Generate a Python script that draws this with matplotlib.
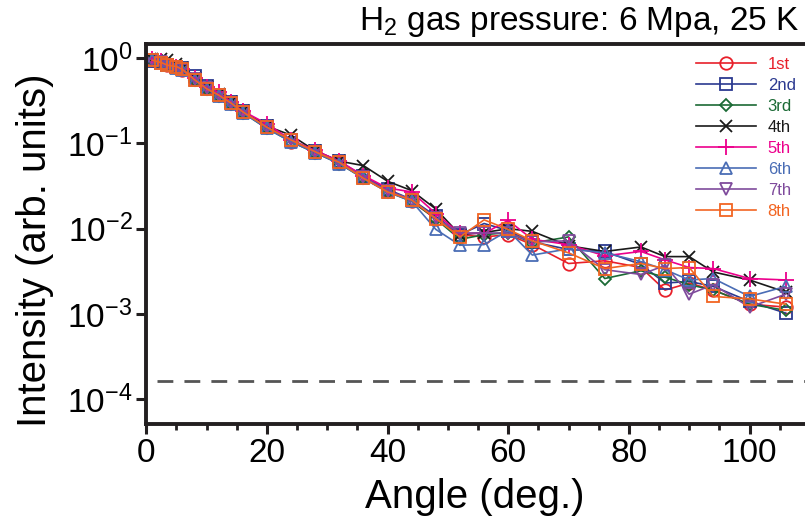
import numpy as np
import matplotlib
matplotlib.use("Agg")
import matplotlib.pyplot as plt
from matplotlib.ticker import FixedLocator, MultipleLocator, FuncFormatter

plt.rcParams['font.family'] = ['Liberation Sans', 'DejaVu Sans']
plt.rcParams['mathtext.fontset'] = 'custom'
plt.rcParams['mathtext.rm'] = 'Liberation Sans'
plt.rcParams['mathtext.default'] = 'regular'

angles = [1, 2.5, 3.5, 5, 6, 8, 10, 12, 14, 16, 20, 24, 28, 32, 36, 40, 44,
          48, 52, 56, 60, 64, 70, 76, 82, 86, 90, 94, 100, 106]

s1 = [0.95, 0.90, 0.84, 0.79, 0.73, 0.57, 0.45, 0.37, 0.30, 0.235, 0.155, 0.105, 0.079, 0.059, 0.040, 0.028, 0.021,
      0.0130, 0.0085, 0.0080, 0.0085, 0.0065, 0.0039, 0.0042, 0.0035, 0.0019, 0.0023, 0.0019, 0.0013, 0.0012]
s2 = [0.92, 0.88, 0.84, 0.80, 0.78, 0.62, 0.47, 0.37, 0.31, 0.24, 0.16, 0.11, 0.082, 0.062, 0.041, 0.029, 0.022,
      0.0140, 0.0085, 0.0115, 0.0095, 0.0070, 0.0057, 0.0054, 0.0038, 0.0023, 0.0024, 0.0021, 0.0014, 0.00102]
s3 = [0.95, 0.90, 0.84, 0.79, 0.73, 0.56, 0.44, 0.36, 0.29, 0.23, 0.150, 0.105, 0.078, 0.058, 0.039, 0.027, 0.021,
      0.0130, 0.0075, 0.0085, 0.0090, 0.0068, 0.0080, 0.0026, 0.0032, 0.0027, 0.0022, 0.0019, 0.0013, 0.0011]
s4 = [0.97, 0.98, 0.95, 0.85, 0.76, 0.58, 0.46, 0.38, 0.31, 0.24, 0.16, 0.125, 0.082, 0.062, 0.055, 0.036, 0.028,
      0.0170, 0.0085, 0.0090, 0.0100, 0.0093, 0.0063, 0.0054, 0.0061, 0.0047, 0.0047, 0.0031, 0.0025, 0.0018]
s5 = [0.98, 0.92, 0.86, 0.80, 0.74, 0.58, 0.46, 0.40, 0.31, 0.24, 0.17, 0.11, 0.083, 0.062, 0.042, 0.030, 0.027,
      0.0150, 0.0088, 0.0088, 0.0125, 0.0075, 0.0065, 0.0048, 0.0054, 0.0043, 0.0035, 0.0034, 0.0026, 0.0025]
s6 = [0.95, 0.89, 0.83, 0.78, 0.72, 0.55, 0.44, 0.36, 0.29, 0.23, 0.150, 0.105, 0.078, 0.058, 0.039, 0.027, 0.021,
      0.0098, 0.0064, 0.0065, 0.0095, 0.0049, 0.0058, 0.0052, 0.0041, 0.0033, 0.0025, 0.0026, 0.0016, 0.0021]
s7 = [0.95, 0.90, 0.84, 0.79, 0.73, 0.57, 0.45, 0.37, 0.30, 0.235, 0.155, 0.11, 0.080, 0.060, 0.040, 0.028, 0.022,
      0.0133, 0.0089, 0.0089, 0.0089, 0.0070, 0.0072, 0.0033, 0.0029, 0.0037, 0.0017, 0.0022, 0.0012, 0.0017]
s8 = [0.95, 0.89, 0.83, 0.80, 0.74, 0.56, 0.44, 0.37, 0.30, 0.235, 0.155, 0.11, 0.080, 0.060, 0.039, 0.027, 0.0217,
      0.0131, 0.0080, 0.0127, 0.0098, 0.0072, 0.0052, 0.0034, 0.0039, 0.0034, 0.0035, 0.0016, 0.0015, 0.0013]

labels = ['1st', '2nd', '3rd', '4th', '5th', '6th', '7th', '8th']
series = [s1, s2, s3, s4, s5, s6, s7, s8]
colors = ['#e8202a', '#2b3990', '#1b6a35', '#1a1a1a', '#ec008c', '#4a6db5', '#7f4b9c', '#f26522']
markers = ['o', 's', 'D', 'x', '+', '^', 'v', 's']
msizes = [9, 9, 6.5, 9, 11, 9, 9, 9]

background_level = 1.63e-4
xticks = [0, 20, 40, 60, 80, 100]
yticks = [1e0, 1e-1, 1e-2, 1e-3, 1e-4]

fig = plt.figure(figsize=(8.05, 5.21), dpi=100)
ax = fig.add_axes([146.3 / 805, (521 - 424) / 521, (805 - 146.3) / 805, (424 - 44) / 521])

for ys, lab, c, m, ms in zip(series, labels, colors, markers, msizes):
    ax.plot(angles, ys, color=c, marker=m, markersize=ms, markerfacecolor='none',
            markeredgecolor=c, markeredgewidth=1.3, linewidth=1.2, label=lab)

ax.plot([1.8, 110], [background_level, background_level], color='#555555',
        linewidth=2.0, dashes=(5.7, 4))

ax.set_yscale('log')
ax.set_xlim(0, 109.2)
ax.set_ylim(10 ** (-4.293), 10 ** 0.168)

ax.xaxis.set_major_locator(FixedLocator(xticks))
ax.xaxis.set_minor_locator(MultipleLocator(5))
ax.yaxis.set_major_locator(FixedLocator(yticks))
ax.yaxis.set_minor_locator(FixedLocator([]))
ax.yaxis.set_major_formatter(FuncFormatter(lambda v, p: '10$^{%d}$' % int(round(np.log10(v)))))

for side in ['left', 'bottom', 'top']:
    ax.spines[side].set_linewidth(2.8)
    ax.spines[side].set_color('#231f20')
ax.spines['right'].set_visible(False)

ax.tick_params(axis='both', which='major', direction='out', length=7, width=2.2,
               color='#231f20', labelsize=24)
ax.tick_params(axis='x', which='minor', direction='out', length=4.5, width=2.0, color='#231f20')
ax.tick_params(axis='x', which='major', pad=3)
ax.tick_params(axis='y', which='major', pad=3)

fig.text(475 / 805, 1 - 497 / 521, 'Angle (deg.)', fontsize=29, ha='center', va='center')
fig.text(35 / 805, 1 - 250 / 521, 'Intensity (arb. units)', fontsize=29, ha='center',
         va='center', rotation=90)
fig.text(800 / 805, 1 - 22 / 521, 'H$_2$ gas pressure: 6 Mpa, 25 K', fontsize=24,
         ha='right', va='center')

leg = ax.legend(loc='upper left', bbox_to_anchor=(696 / 805, 1 - 57 / 521),
                bbox_transform=fig.transFigure, frameon=False, fontsize=12,
                handlelength=3.6, handletextpad=0.7, labelspacing=0.36,
                borderpad=0, borderaxespad=0, numpoints=1)
for txt, c in zip(leg.get_texts(), colors):
    txt.set_color(c)

fig.savefig('out.png', dpi=100)
